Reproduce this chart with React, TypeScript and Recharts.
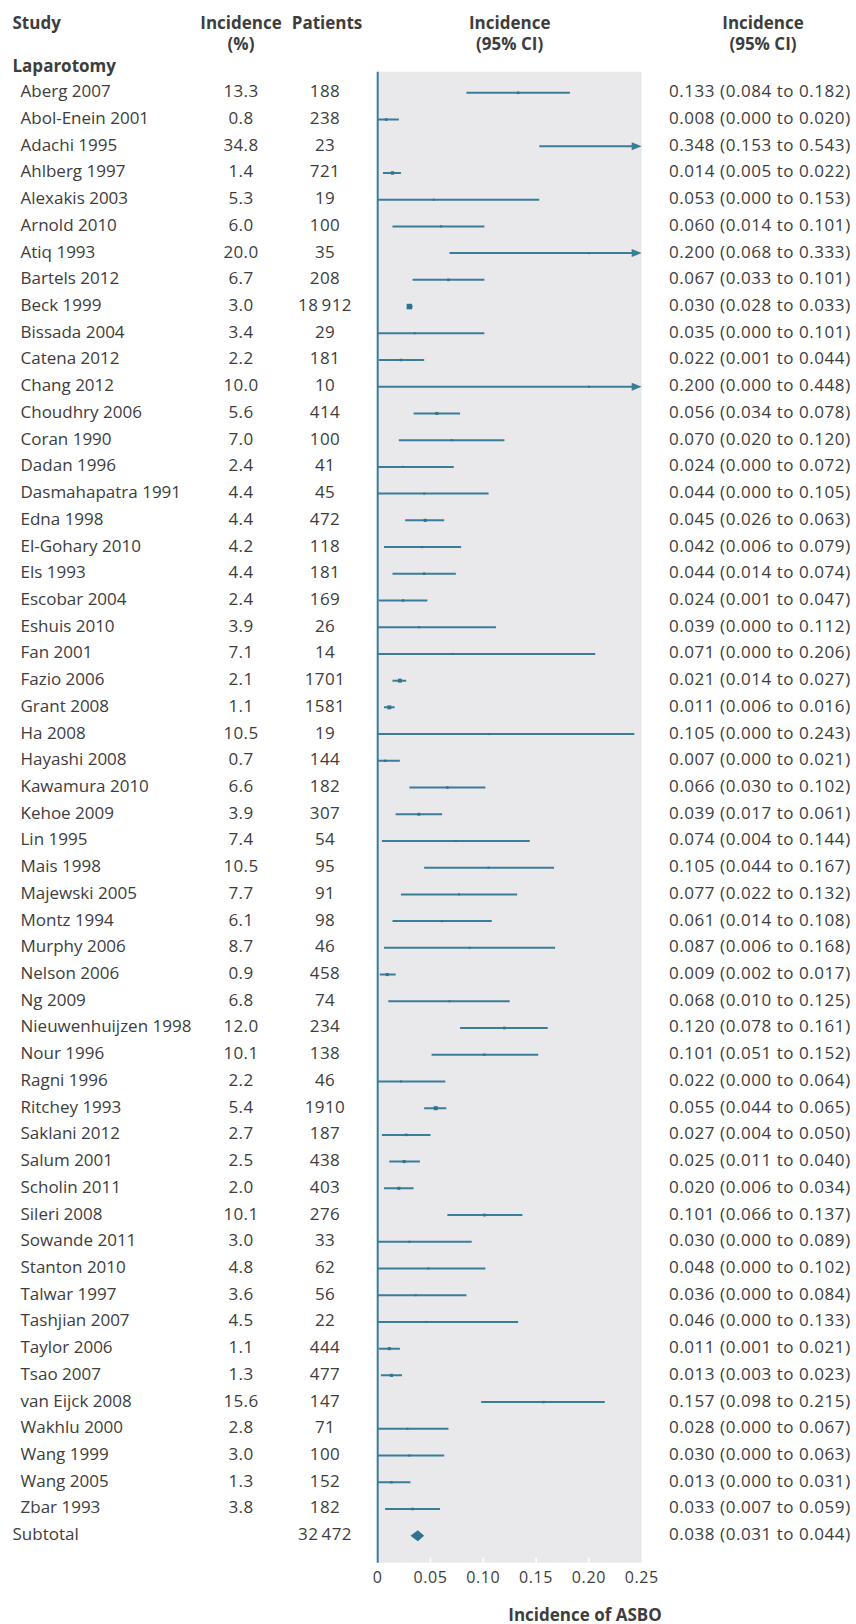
import { ComposedChart, Bar, XAxis, YAxis, CartesianGrid, ReferenceLine } from 'recharts';

const studies = [
  'Aberg 2007', 'Abol-Enein 2001', 'Adachi 1995', 'Ahlberg 1997', 'Alexakis 2003', 'Arnold 2010',
  'Atiq 1993', 'Bartels 2012', 'Beck 1999', 'Bissada 2004', 'Catena 2012', 'Chang 2012',
  'Choudhry 2006', 'Coran 1990', 'Dadan 1996', 'Dasmahapatra 1991', 'Edna 1998', 'El-Gohary 2010',
  'Els 1993', 'Escobar 2004', 'Eshuis 2010', 'Fan 2001', 'Fazio 2006', 'Grant 2008',
  'Ha 2008', 'Hayashi 2008', 'Kawamura 2010', 'Kehoe 2009', 'Lin 1995', 'Mais 1998',
  'Majewski 2005', 'Montz 1994', 'Murphy 2006', 'Nelson 2006', 'Ng 2009', 'Nieuwenhuijzen 1998',
  'Nour 1996', 'Ragni 1996', 'Ritchey 1993', 'Saklani 2012', 'Salum 2001', 'Scholin 2011',
  'Sileri 2008', 'Sowande 2011', 'Stanton 2010', 'Talwar 1997', 'Tashjian 2007', 'Taylor 2006',
  'Tsao 2007', 'van Eijck 2008', 'Wakhlu 2000', 'Wang 1999', 'Wang 2005', 'Zbar 1993',
];

const incidencePct = [
  13.3, 0.8, 34.8, 1.4, 5.3, 6.0, 20.0, 6.7, 3.0, 3.4, 2.2, 10.0,
  5.6, 7.0, 2.4, 4.4, 4.4, 4.2, 4.4, 2.4, 3.9, 7.1, 2.1, 1.1,
  10.5, 0.7, 6.6, 3.9, 7.4, 10.5, 7.7, 6.1, 8.7, 0.9, 6.8, 12.0,
  10.1, 2.2, 5.4, 2.7, 2.5, 2.0, 10.1, 3.0, 4.8, 3.6, 4.5, 1.1,
  1.3, 15.6, 2.8, 3.0, 1.3, 3.8,
];

const patients = [
  188, 238, 23, 721, 19, 100, 35, 208, 18912, 29, 181, 10,
  414, 100, 41, 45, 472, 118, 181, 169, 26, 14, 1701, 1581,
  19, 144, 182, 307, 54, 95, 91, 98, 46, 458, 74, 234,
  138, 46, 1910, 187, 438, 403, 276, 33, 62, 56, 22, 444,
  477, 147, 71, 100, 152, 182,
];

const estimate = [
  0.133, 0.008, 0.348, 0.014, 0.053, 0.060, 0.200, 0.067, 0.030, 0.035, 0.022, 0.200,
  0.056, 0.070, 0.024, 0.044, 0.045, 0.042, 0.044, 0.024, 0.039, 0.071, 0.021, 0.011,
  0.105, 0.007, 0.066, 0.039, 0.074, 0.105, 0.077, 0.061, 0.087, 0.009, 0.068, 0.120,
  0.101, 0.022, 0.055, 0.027, 0.025, 0.020, 0.101, 0.030, 0.048, 0.036, 0.046, 0.011,
  0.013, 0.157, 0.028, 0.030, 0.013, 0.033,
];

const lower = [
  0.084, 0.000, 0.153, 0.005, 0.000, 0.014, 0.068, 0.033, 0.028, 0.000, 0.001, 0.000,
  0.034, 0.020, 0.000, 0.000, 0.026, 0.006, 0.014, 0.001, 0.000, 0.000, 0.014, 0.006,
  0.000, 0.000, 0.030, 0.017, 0.004, 0.044, 0.022, 0.014, 0.006, 0.002, 0.010, 0.078,
  0.051, 0.000, 0.044, 0.004, 0.011, 0.006, 0.066, 0.000, 0.000, 0.000, 0.000, 0.001,
  0.003, 0.098, 0.000, 0.000, 0.000, 0.007,
];

const upper = [
  0.182, 0.020, 0.543, 0.022, 0.153, 0.101, 0.333, 0.101, 0.033, 0.101, 0.044, 0.448,
  0.078, 0.120, 0.072, 0.105, 0.063, 0.079, 0.074, 0.047, 0.112, 0.206, 0.027, 0.016,
  0.243, 0.021, 0.102, 0.061, 0.144, 0.167, 0.132, 0.108, 0.168, 0.017, 0.125, 0.161,
  0.152, 0.064, 0.065, 0.050, 0.040, 0.034, 0.137, 0.089, 0.102, 0.084, 0.133, 0.021,
  0.023, 0.215, 0.067, 0.063, 0.031, 0.059,
];

const subtotalLabel = 'Subtotal';
const subtotalPatients = 32472;
const subtotalCi = [0.038, 0.031, 0.044];

const xTicks = [0, 0.05, 0.1, 0.15, 0.2, 0.25];
const xTickLabels = ['0', '0.05', '0.10', '0.15', '0.20', '0.25'];
const X_MAX = 0.25;

const BLUE = '#3b7c99';
const TEXT = '#3d3d3d';
const FONT = "'Open Sans', sans-serif";

const fmtN = (n: number) => (n >= 10000 ? `${Math.floor(n / 1000)}\u2009${String(n % 1000).padStart(3, '0')}` : String(n));
const fmtCi = (e: number, l: number, h: number) => `${e.toFixed(3)} (${l.toFixed(3)} to ${h.toFixed(3)})`;

const rows = [
  ...studies.map((study, i) => ({
    study,
    total: false,
    pct: incidencePct[i].toFixed(1),
    n: patients[i],
    est: estimate[i],
    lo: lower[i],
    hi: upper[i],
    ci: [lower[i], Math.min(upper[i], X_MAX)],
  })),
  {
    study: subtotalLabel,
    total: true,
    pct: '',
    n: subtotalPatients,
    est: subtotalCi[0],
    lo: subtotalCi[1],
    hi: subtotalCi[2],
    ci: [subtotalCi[1], subtotalCi[2]],
  },
];

function ForestMark(props: any) {
  const { x, y, width, height, payload } = props;
  const cy = y + height / 2;
  const { lo, hi, est, n, total } = payload;
  const hiC = Math.min(hi, X_MAX);
  const pxPer = width / (hiC - lo);
  if (total) {
    const cx = x + (est - lo) * pxPer;
    return (
      <polygon
        points={`${x},${cy} ${cx},${cy - 5.5} ${x + width},${cy} ${cx},${cy + 5.5}`}
        fill="#2f7393"
      />
    );
  }
  const clipped = hi > X_MAX;
  const lineEnd = clipped ? x + width - 8 : x + width;
  const side = Math.max(2, 1.5 * Math.log10(n) - 0.9);
  const cx = x + (est - lo) * pxPer;
  return (
    <g>
      <line x1={x} x2={lineEnd} y1={cy} y2={cy} stroke={BLUE} strokeWidth={2} />
      {clipped && (
        <polygon points={`${x + width - 10},${cy - 4} ${x + width},${cy} ${x + width - 10},${cy + 4}`} fill={BLUE} />
      )}
      {est <= X_MAX && (
        <rect x={cx - side / 2} y={cy - side / 2} width={side} height={side} fill="#2f7393" />
      )}
    </g>
  );
}

function RowText(props: any) {
  const { y, payload } = props;
  const r = rows.find((d) => d.study === payload.value);
  if (!r) return null;
  const by = y + 4.6;
  const base = { fontFamily: FONT, fontSize: 17, fill: TEXT };
  return (
    <g>
      <text x={r.total ? 12.5 : 20.5} y={by} textAnchor="start" {...base}>
        {r.study}
      </text>
      {r.pct && (
        <text x={241} y={by} textAnchor="middle" letterSpacing={0.4} {...base}>
          {r.pct}
        </text>
      )}
      <text x={325} y={by} textAnchor="middle" letterSpacing={0.4} {...base}>
        {fmtN(r.n)}
      </text>
      <text x={669} y={by} textAnchor="start" letterSpacing={0.55} {...base}>
        {fmtCi(r.est, r.lo, r.hi)}
      </text>
    </g>
  );
}

function XTick(props: any) {
  const { x, y, payload } = props;
  const idx = xTicks.indexOf(payload.value);
  const inner = payload.value > 0 && payload.value < X_MAX;
  return (
    <g>
      {inner && <line x1={x} x2={x} y1={y - 5} y2={y} stroke="#ffffff" strokeWidth={1.5} />}
      <text x={x} y={y + 19.8} textAnchor="middle" fontFamily={FONT} fontSize={16} letterSpacing={0.6} fill={TEXT}>
        {xTickLabels[idx]}
      </text>
    </g>
  );
}

function Headers() {
  const bold = { fontFamily: FONT, fontWeight: 700, fontSize: 17, fill: TEXT } as const;
  return (
    <svg width={856} height={1624} style={{ position: 'absolute', left: 0, top: 0, pointerEvents: 'none' }}>
      <text x={12.5} y={28.5} {...bold}>Study</text>
      <text x={241} y={28.5} textAnchor="middle" {...bold}>Incidence</text>
      <text x={241} y={49.5} textAnchor="middle" {...bold}>(%)</text>
      <text x={327} y={28.5} textAnchor="middle" {...bold}>Patients</text>
      <text x={509.7} y={28.5} textAnchor="middle" {...bold}>Incidence</text>
      <text x={509.7} y={49.5} textAnchor="middle" {...bold}>(95% CI)</text>
      <text x={763} y={28.5} textAnchor="middle" {...bold}>Incidence</text>
      <text x={763} y={49.5} textAnchor="middle" {...bold}>(95% CI)</text>
      <text x={12.5} y={72} {...bold}>Laparotomy</text>
      <text x={585} y={1620.5} textAnchor="middle" {...bold}>Incidence of ASBO</text>
    </svg>
  );
}

export default function App() {
  return (
    <div style={{ position: 'absolute', left: 0, top: 0, width: 856, height: 1624, background: '#ffffff' }}>
      <ComposedChart
        layout="vertical"
        width={856}
        height={1624}
        data={rows}
        margin={{ top: 71.7, right: 214.3, bottom: 21.3, left: 367.7 }}
        barCategoryGap={0}
      >
        <CartesianGrid horizontal={false} vertical={false} fill="#e9e9ec" stroke="none" />
        <XAxis
          type="number"
          domain={[0, X_MAX]}
          ticks={xTicks}
          allowDataOverflow
          axisLine={false}
          tickLine={false}
          tickSize={0}
          tickMargin={0}
          height={40}
          interval={0}
          tick={<XTick />}
        />
        <YAxis
          type="category"
          dataKey="study"
          width={10}
          axisLine={false}
          tickLine={false}
          tickSize={0}
          tickMargin={0}
          interval={0}
          padding={{ top: 7.6, bottom: 13.8 }}
          tick={<RowText />}
        />
        <ReferenceLine x={0} stroke={BLUE} strokeWidth={2} />
        <Bar dataKey="ci" shape={<ForestMark />} isAnimationActive={false} />
      </ComposedChart>
      <Headers />
    </div>
  );
}
